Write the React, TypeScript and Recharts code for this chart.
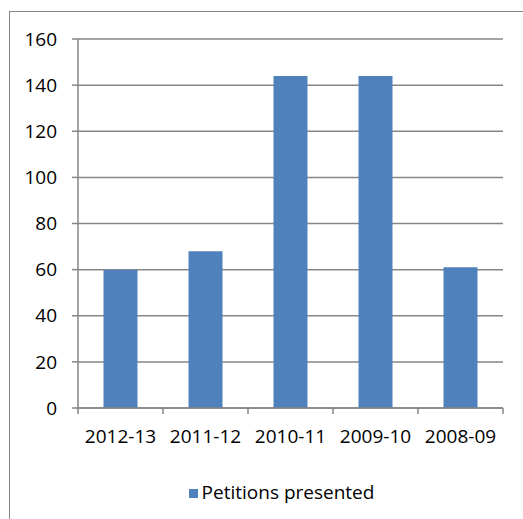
import React from 'react';
import { BarChart, Bar, XAxis, YAxis, CartesianGrid, Legend } from 'recharts';

const years = ['2012-13', '2011-12', '2010-11', '2009-10', '2008-09'];
const petitions = [60, 68, 144, 144, 61];
const yTicks = [0, 20, 40, 60, 80, 100, 120, 140, 160];

const data = years.map((year, i) => ({ year, petitions: petitions[i] }));

const FONT = '"Open Sans", sans-serif';
const GRID = '#868686';
const FS = 19;

// category label plus the boundary tick marks (Excel style, ticks between categories)
const CatTick = (props: any) => {
  const { x, y, payload, index, visibleTicksCount } = props;
  const half = payload.offset || 0;
  const axisY = y - 22;
  return (
    <g>
      <line x1={x - half} x2={x - half} y1={axisY} y2={axisY + 6} stroke={GRID} strokeWidth={1.5} />
      {index === visibleTicksCount - 1 && (
        <line x1={x + half} x2={x + half} y1={axisY} y2={axisY + 6} stroke={GRID} strokeWidth={1.5} />
      )}
      <text x={x} y={y} dy="0.71em" textAnchor="middle" fill="#000" fontSize={FS} fontFamily={FONT}>
        {payload.value}
      </text>
    </g>
  );
};

export default function App() {
  return (
    <div style={{ position: 'absolute', left: 0, top: 0, width: 523, height: 519, overflow: 'hidden', background: '#fff', fontFamily: FONT }}>
      <div style={{ position: 'absolute', left: 9, top: 11, width: 560, height: 560, border: `1.5px solid ${GRID}`, boxSizing: 'border-box' }} />
      <BarChart
        width={523}
        height={519}
        data={data}
        margin={{ top: 39, right: 20, left: 0, bottom: 45 }}
        barCategoryGap="30%"
        style={{ position: 'absolute', left: 0, top: 0 }}
      >
        <CartesianGrid horizontal vertical={false} stroke={GRID} strokeWidth={1.5} />
        <XAxis
          dataKey="year"
          height={40}
          tickSize={0}
          tickMargin={22}
          interval={0}
          axisLine={{ stroke: GRID, strokeWidth: 1.5 }}
          tickLine={false}
          tick={<CatTick />}
        />
        <YAxis
          domain={[0, 160]}
          ticks={yTicks}
          width={78}
          tickSize={6}
          tickMargin={15}
          interval={0}
          axisLine={{ stroke: GRID, strokeWidth: 1.5 }}
          tickLine={{ stroke: GRID, strokeWidth: 1.5 }}
          tick={{ fill: '#000', fontSize: FS, fontFamily: FONT }}
        />
        <Legend
          verticalAlign="bottom"
          iconType="square"
          iconSize={9}
          wrapperStyle={{ left: 10, width: 553, top: 479, fontSize: FS, fontFamily: FONT, color: '#000' }}
          formatter={(v) => <span style={{ color: '#000' }}>{v}</span>}
        />
        <Bar
          dataKey="petitions"
          name="Petitions presented"
          fill="#4F81BD"
          isAnimationActive={false}
        />
      </BarChart>
    </div>
  );
}
